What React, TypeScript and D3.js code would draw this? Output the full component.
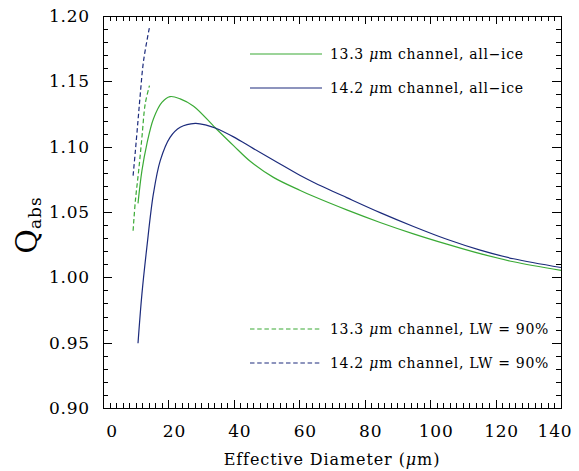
import * as d3 from 'd3'
import { useEffect, useRef } from 'react'

// effective diameter (um) and Qabs
const diam133Ice = [10.7, 11.9, 13.4, 15.4, 18.0, 20.5, 23.6, 27.7, 34.3, 39.9, 45.0, 52.1, 60.3, 64.3, 74.5, 84.7, 94.9, 105.1, 115.3, 125.5, 140]
const q133Ice = [1.0566, 1.0816, 1.102, 1.1212, 1.1339, 1.1383, 1.1366, 1.131, 1.1145, 1.1008, 1.0888, 1.0765, 1.0665, 1.062, 1.0516, 1.042, 1.0333, 1.0254, 1.0181, 1.0119, 1.0053]

const diam142Ice = [10.7, 11.9, 13.4, 15.4, 17.5, 20.5, 23.6, 28.2, 31.8, 34.3, 39.9, 46.0, 53.2, 60.3, 64.3, 74.5, 84.7, 94.9, 105.1, 115.3, 125.5, 140]
const q142Ice = [0.9495, 0.9873, 1.0229, 1.0638, 1.0893, 1.1071, 1.1148, 1.1178, 1.1163, 1.1143, 1.1075, 1.0985, 1.0881, 1.0779, 1.0728, 1.061, 1.0495, 1.0389, 1.0291, 1.0208, 1.0142, 1.0075]

const diam133Lw = [9.2, 9.9, 10.9, 11.9, 12.9, 14.2]
const q133Lw = [1.0357, 1.0587, 1.0816, 1.1071, 1.1327, 1.1467]

const diam142Lw = [9.2, 9.9, 10.7, 11.4, 12.4, 14.2]
const q142Lw = [1.0778, 1.0969, 1.1199, 1.1403, 1.1658, 1.1913]

const xTicks = [0, 20, 40, 60, 80, 100, 120, 140]
const yTicks = [0.9, 0.95, 1.0, 1.05, 1.1, 1.15, 1.2]

const GREEN = '#3aaa35'
const BLUE = '#1c2b7c'
const FONT = "'DejaVu Serif', 'Liberation Serif', serif"

const series = [
  { x: diam133Ice, y: q133Ice, color: GREEN, dash: null, label: '13.3', tail: 'channel, all\u2212ice', ly: 54 },
  { x: diam142Ice, y: q142Ice, color: BLUE, dash: null, label: '14.2', tail: 'channel, all\u2212ice', ly: 88 },
  { x: diam133Lw, y: q133Lw, color: GREEN, dash: '4.5,2.7', label: '13.3', tail: 'channel, LW = 90%', ly: 329 },
  { x: diam142Lw, y: q142Lw, color: BLUE, dash: '4.5,2.7', label: '14.2', tail: 'channel, LW = 90%', ly: 363 },
]

const App = () => {
  const ref = useRef<SVGSVGElement>(null)

  useEffect(() => {
    const svg = d3.select(ref.current)
    svg.selectAll('*').remove()

    const left = 103,
      right = 561,
      top = 16,
      bottom = 408

    const x = d3.scaleLinear().domain([0, 140]).range([left, right])
    const y = d3.scaleLinear().domain([0.9, 1.2]).range([bottom, top])

    const g = svg.append('g').attr('stroke', '#000').attr('stroke-width', 1)

    // inward ticks on all four sides
    const xMinor = d3.range(0, 141, 2)
    const yMinor = d3.range(0, 31).map((i) => 0.9 + i * 0.01)
    xMinor.forEach((v) => {
      const len = v % 20 === 0 ? 8 : 5
      const px = Math.round(x(v)) + 0.5
      g.append('line').attr('x1', px).attr('x2', px).attr('y1', bottom).attr('y2', bottom - len)
      g.append('line').attr('x1', px).attr('x2', px).attr('y1', top).attr('y2', top + len)
    })
    yMinor.forEach((v, i) => {
      const len = i % 5 === 0 ? 9 : 5
      const py = Math.round(y(v)) + 0.5
      g.append('line').attr('x1', left).attr('x2', left + len).attr('y1', py).attr('y2', py)
      g.append('line').attr('x1', right).attr('x2', right - len).attr('y1', py).attr('y2', py)
    })

    g.append('rect')
      .attr('x', left + 0.5)
      .attr('y', top + 0.5)
      .attr('width', right - left)
      .attr('height', bottom - top)
      .attr('fill', 'none')

    // tick labels
    svg
      .selectAll('.xlab')
      .data(xTicks)
      .enter()
      .append('text')
      .attr('class', 'xlab')
      .attr('x', (d) => x(d) + (d === 0 ? 9 : d === 140 ? -6 : 6))
      .attr('y', 437)
      .attr('text-anchor', 'middle')
      .style('font-family', FONT)
      .style('font-size', '17px')
      .style('letter-spacing', '0.8px')
      .text((d) => d)

    svg
      .selectAll('.ylab')
      .data(yTicks)
      .enter()
      .append('text')
      .attr('class', 'ylab')
      .attr('x', 90)
      .attr('y', (d) => y(d) + 6)
      .attr('text-anchor', 'end')
      .style('font-family', FONT)
      .style('font-size', '17px')
      .style('letter-spacing', '0.8px')
      .text((d) => d.toFixed(2))

    // axis titles
    const xt = svg
      .append('text')
      .attr('x', 332)
      .attr('y', 465)
      .attr('text-anchor', 'middle')
      .style('font-family', FONT)
      .style('font-size', '16px')
      .style('letter-spacing', '0.9px')
    xt.append('tspan').text('Effective Diameter (')
    xt.append('tspan').style('font-style', 'italic').text('\u03bc')
    xt.append('tspan').text('m)')

    const yt = svg
      .append('text')
      .attr('transform', 'translate(37,225) rotate(-90)')
      .attr('text-anchor', 'middle')
      .style('font-family', FONT)
    yt.append('tspan').style('font-size', '30px').text('Q')
    yt.append('tspan').style('font-size', '17px').style('letter-spacing', '1px').attr('dy', 4).text('abs')

    // curves
    const line = d3
      .line<[number, number]>()
      .x((d) => x(d[0]))
      .y((d) => y(d[1]))
      .curve(d3.curveCatmullRom)

    series.forEach((s) => {
      const pts = s.x.map((v, i) => [v, s.y[i]] as [number, number])
      svg
        .append('path')
        .attr('d', line(pts))
        .attr('fill', 'none')
        .attr('stroke', s.color)
        .attr('stroke-width', 1.2)
        .attr('stroke-dasharray', s.dash)

      // legend
      svg
        .append('line')
        .attr('x1', 250)
        .attr('x2', 322)
        .attr('y1', s.ly)
        .attr('y2', s.ly)
        .attr('stroke', s.color)
        .attr('stroke-width', 1.2)
        .attr('stroke-dasharray', s.dash)
      const t = svg
        .append('text')
        .attr('x', 330)
        .attr('y', s.ly + 5)
        .style('font-family', FONT)
        .style('font-size', '14px')
        .style('letter-spacing', '0.7px')
      t.append('tspan').text(s.label + ' ')
      t.append('tspan').style('font-style', 'italic').text('\u03bc')
      t.append('tspan').text('m ' + s.tail)
    })
  }, [])

  return (
    <svg
      ref={ref}
      width={579}
      height={471}
      style={{ position: 'absolute', left: 0, top: 0, background: '#fff' }}
    />
  )
}

export default App
